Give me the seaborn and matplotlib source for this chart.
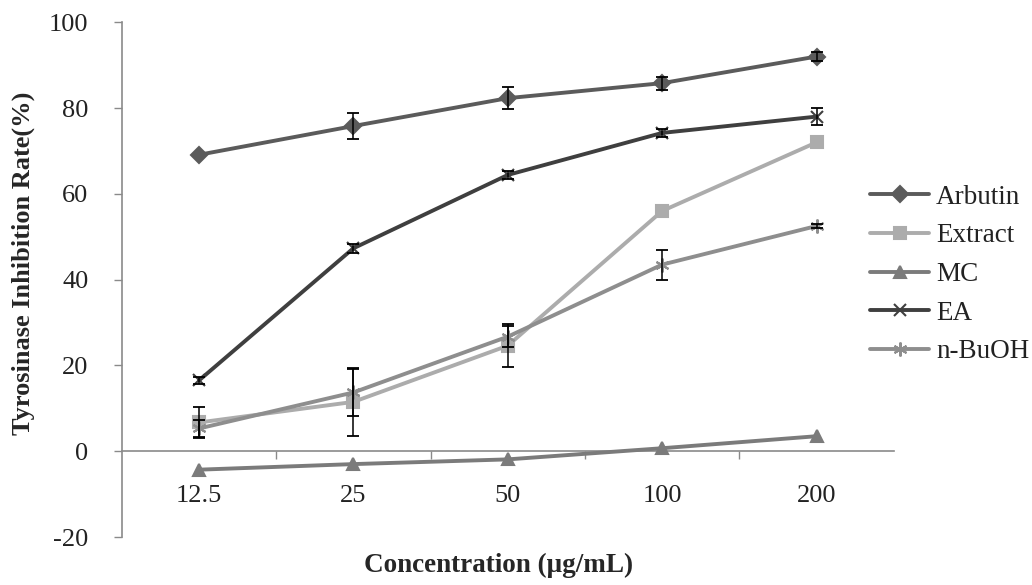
import matplotlib
matplotlib.use("Agg")
import matplotlib.pyplot as plt
import seaborn as sns
import pandas as pd

conc = ["12.5", "25", "50", "100", "200"]
series_names = ["Arbutin", "Extract", "MC", "EA", "n-BuOH"]
arbutin = [69.1, 75.8, 82.3, 85.8, 92.0]
arbutin_err = [0.0, 3.0, 2.5, 1.5, 1.0]
extract = [6.7, 11.5, 24.6, 56.0, 72.0]
extract_err = [3.7, 8.0, 5.0, 0.0, 0.0]
mc = [-4.3, -3.0, -1.9, 0.7, 3.5]
mc_err = [0.0, 0.0, 0.0, 0.0, 0.0]
ea = [16.5, 47.3, 64.4, 74.2, 78.0]
ea_err = [0.8, 1.0, 1.0, 1.0, 2.0]
nbuoh = [5.3, 13.7, 26.7, 43.5, 52.5]
nbuoh_err = [2.0, 5.5, 2.5, 3.5, 0.5]

values = [arbutin, extract, mc, ea, nbuoh]
errors = [arbutin_err, extract_err, mc_err, ea_err, nbuoh_err]

rows = []
for name, vals, errs in zip(series_names, values, errors):
    for c, v, e in zip(conc, vals, errs):
        rows.append({"conc": c, "rate": v, "err": e, "series": name})
df = pd.DataFrame(rows)

sns.set_style("white")
plt.rcParams["font.family"] = ["Liberation Serif", "DejaVu Serif"]
plt.rcParams["axes.unicode_minus"] = False

colors = {"Arbutin": "#5b5b5b", "Extract": "#acacac", "MC": "#7b7b7b",
          "EA": "#3f3f3f", "n-BuOH": "#8e8e8e"}
markers = {"Arbutin": "D", "Extract": "s", "MC": "^", "EA": "x", "n-BuOH": (6, 2, 0)}
msize = {"Arbutin": 8, "Extract": 9, "MC": 9, "EA": 9, "n-BuOH": 10}

fig = plt.figure(figsize=(10.32, 5.85), dpi=100)
ax = fig.add_axes([0.118, 0.082, 0.748, 0.880])

for i, name in enumerate(series_names):
    sub = df[df["series"] == name]
    sns.lineplot(data=sub, x="conc", y="rate", ax=ax, color=colors[name],
                 linewidth=2.8, marker=markers[name], markersize=msize[name],
                 markeredgecolor=colors[name], markeredgewidth=1.5,
                 label=name, zorder=2 + i, sort=False)
    e = sub["err"].values
    mask = e > 0
    ax.errorbar(sub["conc"].values[mask], sub["rate"].values[mask], yerr=e[mask],
                fmt="none", ecolor="black", elinewidth=1.1, capsize=4,
                capthick=1.3, zorder=10)

ax.set_ylim(-20, 100)
ax.set_xlim(-0.5, 4.5)
ax.set_yticks([-20, 0, 20, 40, 60, 80, 100])

for s in ["top", "right"]:
    ax.spines[s].set_visible(False)
ax.spines["bottom"].set_position(("data", 0))
ax.spines["bottom"].set_color("#8a8a8a")
ax.spines["left"].set_color("#8a8a8a")
ax.spines["bottom"].set_linewidth(1.2)
ax.spines["left"].set_linewidth(1.2)

ax.set_xticks([0, 1, 2, 3, 4])
ax.set_xticklabels(conc)
ax.set_xticks([0.5, 1.5, 2.5, 3.5], minor=True)
ax.tick_params(axis="x", which="major", bottom=True, length=0, pad=24, labelsize=19,
               labelcolor="#222222")
ax.tick_params(axis="x", which="minor", bottom=True, length=6, width=1,
               color="#8a8a8a", direction="out")
ax.tick_params(axis="y", left=True, length=6, width=1, color="#8a8a8a", direction="out",
               labelsize=19, labelcolor="#222222", pad=18)

ax.set_xlabel("")
ax.set_ylabel("")
fig.text(0.023, 0.55, "Tyrosinase Inhibition Rate(%)", rotation=90, ha="center",
         va="center", fontsize=19, fontweight="bold")
fig.text(0.483, 0.034, "Concentration (\u03bcg/mL)", ha="center", va="center",
         fontsize=19.5, fontweight="bold")

leg = ax.legend(loc="upper left", bbox_to_anchor=(0.955, 0.705), frameon=False,
                fontsize=19.5, handlelength=2.2, labelspacing=0.5, handletextpad=0.25,
                borderaxespad=0)
for t in leg.get_texts():
    t.set_color("#222222")

fig.savefig("out.png", dpi=100)
